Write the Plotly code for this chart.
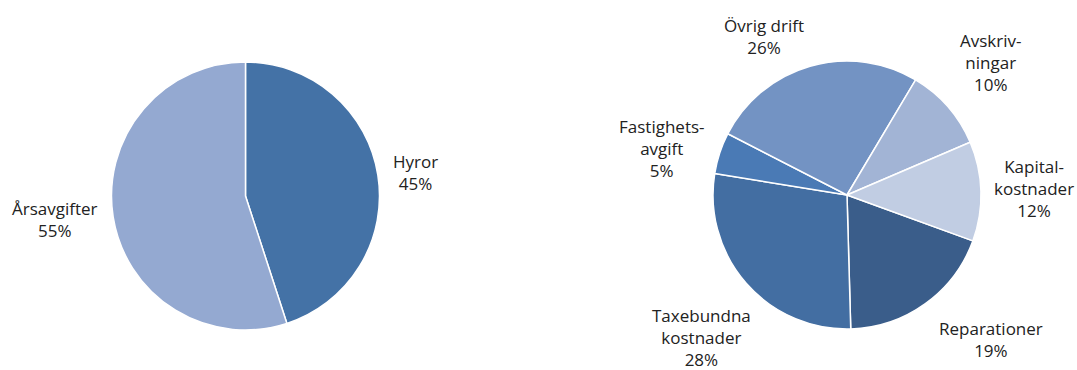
import math
import plotly.graph_objects as go

# ---- data ----
left_labels = ["Hyror", "Årsavgifter"]
left_text = ["Hyror", "Årsavgifter"]
left_values = [45, 55]
left_colors = ["#4472a6", "#94a9d1"]

right_labels = ["Reparationer", "Taxebundna kostnader", "Fastighetsavgift",
                "Övrig drift", "Avskrivningar", "Kapitalkostnader"]
right_text = ["Reparationer", "Taxebundna<br>kostnader", "Fastighets-<br>avgift",
              "Övrig drift", "Avskriv-<br>ningar", "Kapital-<br>kostnader"]
right_values = [19, 28, 5, 26, 10, 12]
right_colors = ["#3a5d8a", "#436ea2", "#4a7ab5", "#7393c3", "#a2b4d5", "#c1cde3"]

W, H = 1077, 370
FONT = dict(family="Open Sans, Noto Sans, sans-serif", size=17, color="#222222")

left_dom = dict(x=[111 / W, 380 / W], y=[1 - 330 / H, 1 - 62 / H])
right_dom = dict(x=[713 / W, 981 / W], y=[1 - 329 / H, 1 - 61 / H])

fig = go.Figure()
fig.add_trace(go.Pie(labels=left_labels, values=left_values, sort=False,
                     direction="clockwise", rotation=0, domain=left_dom,
                     marker=dict(colors=left_colors, line=dict(color="white", width=1.5)),
                     textinfo="none", hoverinfo="label+percent", showlegend=False))
fig.add_trace(go.Pie(labels=right_labels, values=right_values, sort=False,
                     direction="clockwise", rotation=110, domain=right_dom,
                     marker=dict(colors=right_colors, line=dict(color="white", width=1.5)),
                     textinfo="none", hoverinfo="label+percent", showlegend=False))

annotations = []
shifts = {"Taxebundna kostnader": (17, -10), "Övrig drift": (0, -8),
          "Reparationer": (4, 0), "Kapitalkostnader": (-2, 2)}


def add_labels(labels, texts, values, dom, rotation):
    x0, x1 = dom["x"][0] * W, dom["x"][1] * W
    y0, y1 = (1 - dom["y"][1]) * H, (1 - dom["y"][0]) * H
    cx, cy = (x0 + x1) / 2, (y0 + y1) / 2
    R = min(x1 - x0, y1 - y0) / 2
    total = sum(values)
    cum = 0
    for lab, txt, v in zip(labels, texts, values):
        mid = rotation + (cum + v / 2) / total * 360
        cum += v
        a = math.radians(mid)
        s, c = math.sin(a), -math.cos(a)  # c: screen-down component
        px, py = cx + 1.1 * R * s, cy + 1.1 * R * c
        xa = "left" if s > 0 else "right"
        if abs(c) < 0.5:
            ya = "middle"
        elif c < 0:
            ya = "bottom"
        else:
            ya = "top"
        pct = round(v / total * 100)
        dx, dy = shifts.get(lab, (0, 0))
        annotations.append(dict(x=px / W, y=1 - py / H, xref="paper", yref="paper",
                                text=f"{txt}<br>{pct}%", showarrow=False,
                                xanchor=xa, yanchor=ya, align="center",
                                xshift=dx, yshift=dy, font=FONT))


add_labels(left_labels, left_text, left_values, left_dom, 0)
add_labels(right_labels, right_text, right_values, right_dom, 110)

fig.update_layout(width=W, height=H, margin=dict(l=0, r=0, t=0, b=0),
                  paper_bgcolor="white", plot_bgcolor="white",
                  annotations=annotations, font=FONT)
fig.write_html("out.html")
